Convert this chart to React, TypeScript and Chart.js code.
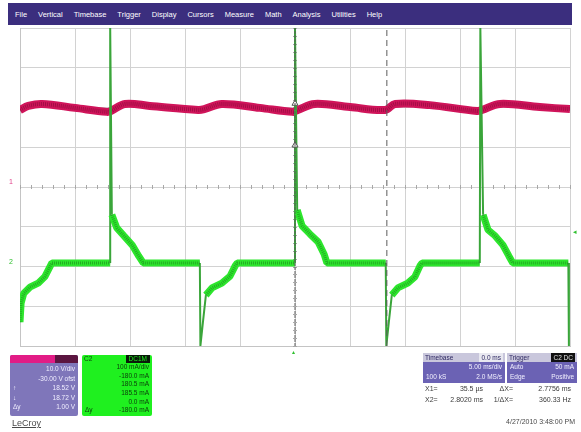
import React, { useEffect, useRef } from "react";
import { Chart, registerables } from "chart.js";

Chart.register(...registerables);

// Channel 2 (green, current) trace, in screen divisions (x: 0..10, y: -4..4)
const C2_X = [0, 0.02, 0.07, 0.18, 0.33, 0.45, 0.55, 0.58, 1.64, 1.64, 1.67, 1.76, 1.89, 2.04, 2.16, 2.24, 3.27, 3.28, 3.33, 3.38, 3.49, 3.67, 3.82, 3.91, 3.95, 5.0, 5.0, 5.04, 5.13, 5.27, 5.42, 5.53, 5.58, 6.65, 6.66, 6.71, 6.76, 6.87, 7.05, 7.18, 7.27, 7.31, 8.36, 8.37, 8.42, 8.51, 8.64, 8.78, 8.89, 8.96, 9.97, 9.98];
const C2_Y = [-3.4, -2.92, -2.67, -2.52, -2.42, -2.26, -1.99, -1.91, -1.91, 4.0, -0.7, -1.03, -1.23, -1.46, -1.74, -1.91, -1.91, -4.0, -3.35, -2.72, -2.54, -2.42, -2.24, -1.99, -1.91, -1.91, 4.0, -0.58, -0.98, -1.18, -1.38, -1.69, -1.91, -1.91, -4.0, -3.35, -2.72, -2.54, -2.42, -2.26, -1.99, -1.91, -1.91, 4.0, -0.7, -1.08, -1.23, -1.46, -1.74, -1.91, -1.91, -4.0];

// Channel 1 (magenta, voltage) trace
const C1_X = [0, 0.15, 0.4, 1.0, 1.58, 1.65, 1.91, 2.36, 3.24, 3.35, 3.67, 4.36, 4.96, 5.05, 5.36, 6.0, 6.64, 6.82, 7.45, 8.31, 8.4, 8.73, 9.45, 10];
const C1_Y = [1.94, 2.04, 2.09, 1.99, 1.89, 1.91, 2.09, 2.04, 1.94, 1.96, 2.09, 1.99, 1.89, 1.94, 2.09, 2.01, 1.94, 2.09, 2.06, 1.91, 1.94, 2.09, 2.01, 1.96];

// Cursor positions (divisions)
const CURSORS = [5.0, 6.67];
const CURSOR_MARKS_Y = [2.1, 1.05];

const MENU = ["File", "Vertical", "Timebase", "Trigger", "Display", "Cursors", "Measure", "Math", "Analysis", "Utilities", "Help"];

const C1_ROWS = [["", "10.0 V/div"], ["", "-30.00 V ofst"], ["↑", "18.52 V"], ["↓", "18.72 V"], ["Δy", "1.00 V"]];
const C2_ROWS = [["", "100 mA/div"], ["", "-180.0 mA"], ["", "180.5 mA"], ["", "185.5 mA"], ["", "0.0 mA"], ["Δy", "-180.0 mA"]];

const TB_HEAD = ["Timebase", "0.0 ms"];
const TB_ROWS = [["", "5.00 ms/div"], ["100 kS", "2.0 MS/s"]];
const TRIG_HEAD = ["Trigger", "C2 DC"];
const TRIG_ROWS = [["Auto", "50 mA"], ["Edge", "Positive"]];
const CURSOR_ROWS = [["X1=", "35.5 µs", "ΔX=", "2.7756 ms"], ["X2=", "2.8020 ms", "1/ΔX=", "360.33 Hz"]];
const DATE_TEXT = "4/27/2010 3:48:00 PM";

const FONT = "'Liberation Sans', Arial, sans-serif";

function isEdge(ctx: any) {
  const dx = Math.abs(ctx.p1.parsed.x - ctx.p0.parsed.x);
  const dy = Math.abs(ctx.p1.parsed.y - ctx.p0.parsed.y);
  return dy > 0.5 && dy > dx * 12;
}

const centerTicks = {
  id: "centerTicks",
  beforeDatasetsDraw(chart: any) {
    const { ctx, scales } = chart;
    const x = scales.x;
    const y = scales.y;
    const y0 = y.getPixelForValue(0);
    const x0 = x.getPixelForValue(5);
    ctx.save();
    ctx.strokeStyle = "#a8a8a8";
    ctx.lineWidth = 1;
    ctx.beginPath();
    for (let i = 0; i <= 50; i++) {
      const px = Math.round(x.getPixelForValue(i * 0.2)) + 0.5;
      ctx.moveTo(px, y0 - 2);
      ctx.lineTo(px, y0 + 2);
    }
    for (let i = 0; i <= 40; i++) {
      const py = Math.round(y.getPixelForValue(-4 + i * 0.2)) + 0.5;
      ctx.moveTo(x0 - 2, py);
      ctx.lineTo(x0 + 2, py);
    }
    ctx.stroke();
    ctx.restore();
  },
};

function Row({ l, r, color }: { l: string; r: string; color: string }) {
  return (
    <div style={{ display: "flex", justifyContent: "space-between", height: 9.5, lineHeight: "9.5px", color, padding: "0 3px" }}>
      <span>{l}</span>
      <span>{r}</span>
    </div>
  );
}

export default function App() {
  const ref = useRef<HTMLCanvasElement>(null);

  useEffect(() => {
    const c2 = C2_X.map((x, i) => ({ x, y: C2_Y[i] }));
    const c1 = C1_X.map((x, i) => ({ x, y: C1_Y[i] }));
    const cursorSets = CURSORS.map((c, i) => ({
      data: [{ x: c, y: -4 }, { x: c, y: 4 }],
      borderColor: "#5a5a5a",
      borderWidth: 1,
      borderDash: i === 0 ? [3, 1] : [6, 4],
      pointRadius: 0,
      order: 0,
    }));
    const chart = new Chart(ref.current as HTMLCanvasElement, {
      type: "line",
      data: {
        datasets: [
          {
            data: c1,
            borderColor: "#d0145a",
            borderWidth: 8,
            tension: 0.35,
            pointRadius: 0,
            borderCapStyle: "butt",
            order: 4,
          } as any,
          {
            data: c1,
            borderColor: "rgba(80,0,35,0.35)",
            borderWidth: 4,
            borderDash: [1, 1],
            tension: 0.35,
            pointRadius: 0,
            order: 3,
          } as any,
          {
            data: c2,
            borderWidth: 7,
            borderColor: "#2de62d",
            pointRadius: 0,
            borderJoinStyle: "bevel",
            borderCapStyle: "butt",
            segment: {
              borderWidth: (ctx: any) => (isEdge(ctx) ? 2 : 7),
              borderColor: (ctx: any) => (isEdge(ctx) ? "#3aa53a" : "#2de62d"),
            },
            order: 2,
          } as any,
          {
            data: c2,
            borderWidth: 3,
            borderColor: "rgba(20,90,20,0.4)",
            borderDash: [1, 1],
            pointRadius: 0,
            segment: {
              borderColor: (ctx: any) => (isEdge(ctx) ? "rgba(0,0,0,0)" : "rgba(20,90,20,0.4)"),
            },
            order: 1,
          } as any,
          ...cursorSets,
          {
            data: CURSOR_MARKS_Y.map((y) => ({ x: CURSORS[0], y })),
            showLine: false,
            pointStyle: "triangle",
            pointRadius: 3.5,
            pointBackgroundColor: "#ffffff",
            pointBorderColor: "#555555",
            pointBorderWidth: 1,
            order: 0,
          } as any,
        ],
      },
      options: {
        animation: false,
        responsive: false,
        devicePixelRatio: 1,
        layout: { padding: { left: 20, right: 11, top: 28, bottom: 86 } },
        plugins: { legend: { display: false }, tooltip: { enabled: false } },
        events: [],
        scales: {
          x: {
            type: "linear",
            min: 0,
            max: 10,
            ticks: { display: false, stepSize: 1 },
            grid: { color: "#d2d2d2", drawTicks: false, lineWidth: 1 },
            border: { display: true, color: "#c4c4c4" },
            afterFit: (s: any) => {
              s.height = 0;
            },
          },
          y: {
            type: "linear",
            min: -4,
            max: 4,
            ticks: { display: false, stepSize: 1 },
            grid: { color: "#d2d2d2", drawTicks: false, lineWidth: 1 },
            border: { display: true, color: "#c4c4c4" },
            afterFit: (s: any) => {
              s.width = 0;
            },
          },
        },
      } as any,
      plugins: [centerTicks],
    });
    return () => chart.destroy();
  }, []);

  return (
    <div style={{ position: "fixed", left: 0, top: 0, width: 581, height: 432, background: "#ffffff", fontFamily: FONT, overflow: "hidden" }}>
      <canvas ref={ref} width={581} height={432} style={{ position: "absolute", left: 0, top: 0, width: 581, height: 432 }} />
      {/* Menu bar */}
      <div style={{ position: "absolute", left: 8, top: 3, width: 564, height: 22, background: "#3b2e7e", display: "flex", alignItems: "center", gap: 11, paddingLeft: 7, boxSizing: "border-box", color: "#ffffff", fontSize: 7.5 }}>
        {MENU.map((m) => (
          <span key={m}>{m}</span>
        ))}
      </div>
      {/* channel markers */}
      <div style={{ position: "absolute", left: 9, top: 178, fontSize: 7, color: "#e0408a" }}>1</div>
      <div style={{ position: "absolute", left: 9, top: 258, fontSize: 7, color: "#30c030" }}>2</div>
      <div style={{ position: "absolute", left: 573, top: 228, fontSize: 7, color: "#30c030" }}>◂</div>
      <div style={{ position: "absolute", left: 292, top: 348, fontSize: 6, color: "#30c030" }}>▴</div>
      {/* C1 descriptor */}
      <div style={{ position: "absolute", left: 10, top: 355, width: 68, height: 61, background: "#7f76ba", fontSize: 6.5, borderRadius: 2, overflow: "hidden" }}>
        <div style={{ display: "flex", height: 8 }}>
          <div style={{ width: 45, background: "#e21c86" }} />
          <div style={{ flex: 1, background: "#5b1540" }} />
        </div>
        <div style={{ paddingTop: 1 }}>
          {C1_ROWS.map((r, i) => (
            <Row key={i} l={r[0]} r={r[1]} color="#f0eeff" />
          ))}
        </div>
      </div>
      {/* C2 descriptor */}
      <div style={{ position: "absolute", left: 82, top: 355, width: 70, height: 61, background: "#1ff01f", fontSize: 6.5, borderRadius: 2, overflow: "hidden" }}>
        <div style={{ display: "flex", justifyContent: "space-between", height: 8, lineHeight: "8px", padding: "0 2px" }}>
          <span style={{ color: "#0b4a0b" }}>C2</span>
          <span style={{ background: "#0a1a0a", color: "#1ff01f", padding: "0 3px" }}>DC1M</span>
        </div>
        <div>
          {C2_ROWS.map((r, i) => (
            <div key={i} style={{ display: "flex", justifyContent: "space-between", height: 8.7, lineHeight: "8.7px", color: "#0b3a0b", padding: "0 3px" }}>
              <span>{r[0]}</span>
              <span>{r[1]}</span>
            </div>
          ))}
        </div>
      </div>
      {/* LeCroy logo */}
      <div style={{ position: "absolute", left: 12, top: 418, fontSize: 9, color: "#4a4a4a", textDecoration: "underline" }}>LeCroy</div>
      {/* Timebase box */}
      <div style={{ position: "absolute", left: 423, top: 353, width: 82, height: 30, background: "#6b62b4", fontSize: 6.5, overflow: "hidden" }}>
        <div style={{ display: "flex", justifyContent: "space-between", height: 9, lineHeight: "9px", background: "#c9c7dc", color: "#2c2660", padding: "0 2px" }}>
          <span>{TB_HEAD[0]}</span>
          <span style={{ background: "#e8e8f0", padding: "0 2px" }}>{TB_HEAD[1]}</span>
        </div>
        {TB_ROWS.map((r, i) => (
          <Row key={i} l={r[0]} r={r[1]} color="#f2f0ff" />
        ))}
      </div>
      {/* Trigger box */}
      <div style={{ position: "absolute", left: 507, top: 353, width: 70, height: 30, background: "#6b62b4", fontSize: 6.5, overflow: "hidden" }}>
        <div style={{ display: "flex", justifyContent: "space-between", height: 9, lineHeight: "9px", background: "#c9c7dc", color: "#2c2660", padding: "0 2px" }}>
          <span>{TRIG_HEAD[0]}</span>
          <span style={{ background: "#111111", color: "#e0e0e0", padding: "0 2px" }}>{TRIG_HEAD[1]}</span>
        </div>
        {TRIG_ROWS.map((r, i) => (
          <Row key={i} l={r[0]} r={r[1]} color="#f2f0ff" />
        ))}
      </div>
      {/* Cursor readout */}
      {CURSOR_ROWS.map((r, i) => (
        <div key={i} style={{ position: "absolute", left: 425, top: 385 + i * 10.5, width: 152, height: 10, fontSize: 7, color: "#3a3a3a", display: "flex" }}>
          <span style={{ width: 14 }}>{r[0]}</span>
          <span style={{ width: 44, textAlign: "right" }}>{r[1]}</span>
          <span style={{ width: 30, textAlign: "right" }}>{r[2]}</span>
          <span style={{ width: 58, textAlign: "right" }}>{r[3]}</span>
        </div>
      ))}
      <div style={{ position: "absolute", right: 6, top: 418, fontSize: 7, color: "#4a4a4a" }}>{DATE_TEXT}</div>
    </div>
  );
}
